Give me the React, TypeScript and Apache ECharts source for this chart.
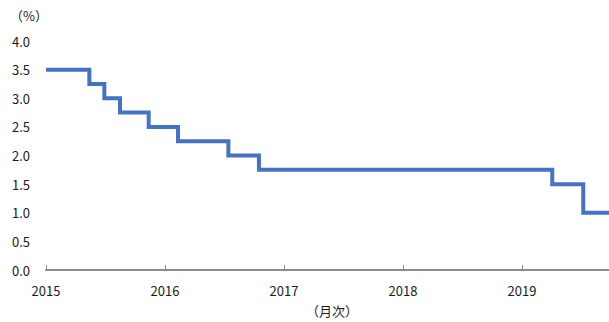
import React, { useEffect, useRef } from "react";
import * as echarts from "echarts";

// Policy rate change dates (YYYY-MM-DD) and the rate (%) that took effect on each
const changeDates = [
  "2015-01-01",
  "2015-05-14",
  "2015-06-29",
  "2015-08-16",
  "2015-11-12",
  "2016-02-10",
  "2016-07-14",
  "2016-10-16",
  "2019-04-04",
  "2019-07-08",
  "2019-09-25",
];
const rates = [3.5, 3.25, 3.0, 2.75, 2.5, 2.25, 2.0, 1.75, 1.5, 1.0, 1.0];

const yearTicks = [2015, 2016, 2017, 2018, 2019];
const yTicks = [0, 0.5, 1, 1.5, 2, 2.5, 3, 3.5, 4];

// decimal year of a date string
function toYear(d: string): number {
  const [y, m, day] = d.split("-").map(Number);
  const start = Date.UTC(y, 0, 1);
  const end = Date.UTC(y + 1, 0, 1);
  return y + (Date.UTC(y, m - 1, day) - start) / (end - start);
}

export default function App() {
  const ref = useRef<HTMLDivElement>(null);
  useEffect(() => {
    if (!ref.current) return;
    const chart = echarts.init(ref.current, null, { renderer: "svg" });
    const font = "'Noto Sans CJK JP', 'Noto Sans', sans-serif";
    const xs = changeDates.map(toYear);
    chart.setOption({
      animation: false,
      textStyle: { fontFamily: font },
      grid: { left: 46, right: 0, top: 41, bottom: 52, containLabel: false },
      xAxis: {
        type: "value",
        min: yearTicks[0],
        max: xs[xs.length - 1],
        interval: 1,
        axisLine: { show: true, lineStyle: { color: "#8c8c8c", width: 2 } },
        axisTick: { show: true, inside: true, length: 5, lineStyle: { color: "#8c8c8c", width: 1 } },
        splitLine: { show: false },
        axisLabel: {
          color: "#1a1a1a",
          fontSize: 13,
          margin: 14,
          showMaxLabel: false,
          formatter: (v: number) => (yearTicks.includes(Math.round(v)) && Math.abs(v - Math.round(v)) < 1e-6 ? String(Math.round(v)) : ""),
        },
      },
      yAxis: {
        type: "value",
        min: yTicks[0],
        max: yTicks[yTicks.length - 1],
        interval: 0.5,
        axisLine: { show: false },
        axisTick: { show: false },
        splitLine: { show: false },
        axisLabel: {
          color: "#1a1a1a",
          fontSize: 13,
          margin: 16,
          formatter: (v: number) => v.toFixed(1),
        },
      },
      graphic: [
        {
          type: "text",
          left: 10,
          top: 9,
          style: { text: "（%）", fontSize: 13, fill: "#1a1a1a", fontFamily: font },
        },
        {
          type: "text",
          left: 306,
          top: 304,
          style: { text: "（月次）", fontSize: 13, fill: "#1a1a1a", fontFamily: font },
        },
      ],
      series: [
        {
          type: "line",
          step: "end",
          showSymbol: false,
          symbol: "none",
          data: xs.map((x, i) => [x, rates[i]]),
          lineStyle: { color: "#4472c4", width: 4, cap: "butt", join: "miter" },
        },
      ],
    });
    return () => chart.dispose();
  }, []);
  return (
    <div
      ref={ref}
      style={{ position: "fixed", left: 0, top: 0, width: 609, height: 322, background: "#fff" }}
    />
  );
}
